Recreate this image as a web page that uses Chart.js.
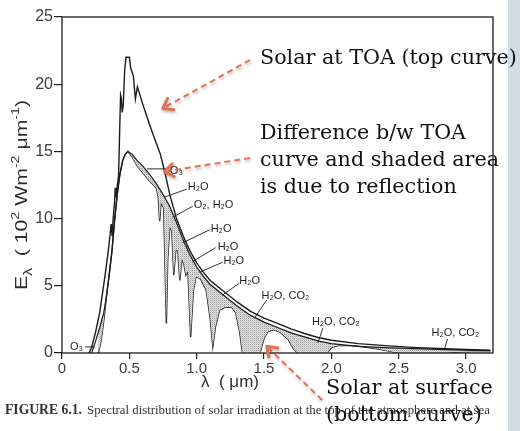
<!DOCTYPE html>
<html>
<head>
<meta charset="utf-8">
<script src="https://cdn.jsdelivr.net/npm/chart.js@4.4.1/dist/chart.umd.min.js"></script>
<style>
  html, body { margin: 0; padding: 0; background: #fff; overflow: hidden; }
  canvas { display: block; }
</style>
</head>
<body>
<canvas id="c" width="520" height="431"></canvas>
<script>
// Solar irradiance at the top of the atmosphere (10^2 W m^-2 um^-1)
const lambdaToa = [0.20,0.22,0.25,0.28,0.30,0.32,0.34,0.355,0.365,0.372,0.38,0.39,0.395,0.40,0.41,0.42,0.428,0.435,0.44,0.447,0.455,0.465,0.475,0.50,0.51,0.53,0.545,0.56,0.60,0.65,0.70,0.73,0.76,0.80,0.85,0.90,0.95,1.00,1.05,1.10,1.20,1.30,1.40,1.50,1.60,1.70,1.80,1.90,2.00,2.20,2.40,2.60,2.80,3.00,3.18];
const eToa      = [0,0.4,1.6,3.0,4.4,5.8,7.3,8.6,9.6,8.7,10.0,11.2,12.3,11.6,12.4,13.2,16.5,19.2,19.0,17.9,18.5,21.0,22.0,22.0,21.2,20.6,18.9,19.8,18.5,17.0,15.6,14.8,13.6,11.8,10.0,8.7,7.6,6.7,6.0,5.4,4.6,3.8,3.1,2.6,2.2,1.8,1.45,1.15,0.95,0.7,0.55,0.42,0.33,0.26,0.2];

// Sea-level curve without gaseous absorption (upper edge of the shaded band)
const lambdaClear = [0.22,0.25,0.28,0.31,0.33,0.35,0.37,0.39,0.41,0.43,0.45,0.47,0.49,0.52,0.56,0.60,0.65,0.70,0.75,0.80,0.85,0.90,0.95,1.00,1.05,1.10,1.20,1.30,1.40,1.50,1.60,1.70,1.80,1.90,2.00,2.20,2.40,2.60,2.80,3.00,3.18];
const eClear      = [0,0.9,1.9,3.0,4.2,5.8,7.5,9.8,11.8,13.3,14.3,14.8,15.0,14.8,14.3,13.9,13.3,12.6,11.8,10.9,9.7,8.4,7.3,6.4,5.7,5.1,4.3,3.5,2.8,2.3,1.9,1.5,1.2,0.9,0.7,0.5,0.4,0.33,0.27,0.22,0.18];

// Solar irradiance at sea level (lower edge of the shaded band)
const lambdaSfc = [0.27,0.29,0.31,0.33,0.35,0.37,0.39,0.41,0.43,0.45,0.47,0.49,0.52,0.56,0.60,0.64,0.68,0.70,0.715,0.725,0.735,0.755,0.765,0.775,0.785,0.80,0.815,0.83,0.845,0.86,0.875,0.89,0.905,0.92,0.935,0.955,0.975,0.995,1.03,1.07,1.10,1.12,1.14,1.17,1.21,1.26,1.29,1.32,1.34,1.47,1.50,1.53,1.57,1.62,1.68,1.72,1.75,1.97,2.00,2.05,2.15,2.25,2.35,2.45,2.50,2.85,2.95,3.05,3.18];
const eSfc      = [0,0.9,2.4,4.2,5.8,7.5,9.8,11.8,13.3,14.3,14.8,15.0,14.6,13.9,13.4,12.9,12.5,12.3,11.6,9.8,11.2,10.8,6.5,2.2,7.0,9.4,9.1,5.8,7.7,7.6,5.4,7.0,6.6,5.8,6.1,1.2,4.6,5.7,5.5,4.7,2.6,0.5,2.0,3.2,3.4,3.4,3.0,1.5,0,0,1.1,1.6,1.75,1.55,1.0,0.3,0,0,0.4,0.55,0.55,0.45,0.3,0.1,0,0,0.08,0.1,0.1];

// Axis ticks
const xTickValues = [0, 0.5, 1.0, 1.5, 2.0, 2.5, 3.0];
const yTickValues = [0, 5, 10, 15, 20, 25];

// Absorber labels: anchor on the curve (um, 10^2 W m^-2 um^-1)
const chemText = ['O\u2083','H\u2082O','O\u2082, H\u2082O','H\u2082O','H\u2082O','H\u2082O','H\u2082O','H\u2082O, CO\u2082','H\u2082O, CO\u2082','H\u2082O, CO\u2082','O\u2083'];
const chemLam  = [0.63,0.763,0.822,0.896,0.97,1.02,1.19,1.43,1.90,2.84,0.245];
const chemE    = [13.7,11.6,10.1,8.2,6.8,6.0,4.3,2.6,0.75,0.3,0.45];

const pts = (xs, ys) => xs.map((x, i) => ({ x, y: ys[i] }));

// stippled grey fill for the absorbed band
function stipple() {
  const p = document.createElement('canvas');
  p.width = 2; p.height = 2;
  const g = p.getContext('2d');
  g.fillStyle = '#e2e2e2'; g.fillRect(0, 0, 2, 2);
  g.fillStyle = '#9c9c9c'; g.fillRect(0, 0, 1, 1);
  g.fillStyle = '#c8c8c8'; g.fillRect(1, 1, 1, 1);
  return document.getElementById('c').getContext('2d').createPattern(p, 'repeat');
}

const INK = '#1c1c1c';
const SERIF = '"DejaVu Serif", serif';
const SANS = '"Liberation Sans", Arial, sans-serif';
const ARROW = '#e4724e';

function richWidth(ctx, parts, k) {
  let total = 0;
  parts.forEach(p => { ctx.font = (p[1] * k) + 'px ' + SANS; total += ctx.measureText(p[0]).width; });
  return total;
}

function drawRich(ctx, parts, x, y, align, k) {
  // parts: [text, size, dy]
  const total = richWidth(ctx, parts, k);
  let cx = align === 'center' ? x - total / 2 : x;
  parts.forEach(p => {
    ctx.font = (p[1] * k) + 'px ' + SANS;
    ctx.fillText(p[0], cx, y + p[2] * k);
    cx += ctx.measureText(p[0]).width;
  });
}

function fitSize(ctx, text, family, width, weight) {
  ctx.font = (weight || '') + ' 20px ' + family;
  return 20 * width / ctx.measureText(text).width;
}

function arrow(ctx, x0, y0, x1, y1) {
  ctx.save();
  ctx.strokeStyle = ARROW;
  ctx.shadowColor = 'rgba(0,0,0,0.28)';
  ctx.shadowBlur = 3; ctx.shadowOffsetX = 1; ctx.shadowOffsetY = 2;
  ctx.lineWidth = 2;
  ctx.setLineDash([6, 4]);
  const a = Math.atan2(y1 - y0, x1 - x0);
  ctx.beginPath();
  ctx.moveTo(x0, y0);
  ctx.lineTo(x1 - 4 * Math.cos(a), y1 - 4 * Math.sin(a));
  ctx.stroke();
  ctx.setLineDash([]);
  ctx.lineWidth = 3;
  ctx.lineCap = 'round'; ctx.lineJoin = 'round';
  const h = 11, w = 0.62;
  ctx.beginPath();
  ctx.moveTo(x1 - h * Math.cos(a - w), y1 - h * Math.sin(a - w));
  ctx.lineTo(x1, y1);
  ctx.lineTo(x1 - h * Math.cos(a + w), y1 - h * Math.sin(a + w));
  ctx.stroke();
  ctx.restore();
}

const decor = {
  id: 'decor',
  beforeDraw(chart) {
    const ctx = chart.ctx;
    ctx.save();
    ctx.fillStyle = '#ffffff';
    ctx.fillRect(0, 0, chart.width, chart.height);
    ctx.fillStyle = '#d4dce3';
    ctx.fillRect(508, 0, chart.width - 508, chart.height);
    ctx.restore();
  },
  afterDraw(chart) {
    const ctx = chart.ctx;
    const a = chart.chartArea;
    const xs = chart.scales.x, ys = chart.scales.y;
    ctx.save();

    // plot frame
    ctx.strokeStyle = INK; ctx.lineWidth = 1.3;
    ctx.strokeRect(a.left, a.top, a.right - a.left, a.bottom - a.top);

    // y-axis title, set in a slightly extended face
    ctx.fillStyle = '#2e2e2e';
    ctx.textBaseline = 'alphabetic';
    const yTitle = [['E', 15, 0], ['\u03bb', 11, 4], ['  ( 10', 15, 0], ['2', 10, -7], [' Wm', 15, 0], ['-2', 10, -7], [' \u03bcm', 15, 0], ['-1', 10, -7], [')', 15, 0]];
    const k = 1.15;
    const stretch = 190 / richWidth(ctx, yTitle, k);
    ctx.save();
    ctx.translate(27, 195);
    ctx.rotate(-Math.PI / 2);
    ctx.scale(stretch, 1);
    drawRich(ctx, yTitle, 0, 0, 'center', k);
    ctx.restore();

    // x-axis title
    drawRich(ctx, [['\u03bb  ( \u03bcm)', 17, 0]], 230, 387, 'center', 1);

    // absorber labels with leader lines
    const dx = [21, 22, 20, 27, 23, 23, 17, 12, 5, 3, -10];
    const dy = [0, -8, -11, -13, -14, -10, -12, -18, -15, -10, 0];
    const tx = [2, 1, 1, 1, 2, 1, 0, -5, -11, -16, -2];
    const ty = [2, -2, -1, -1, -1, -1, -2, -4, -6, -6, 0];
    ctx.strokeStyle = INK; ctx.lineWidth = 0.9;
    ctx.fillStyle = '#1e1e1e';
    ctx.font = '11px ' + SANS;
    ctx.textBaseline = 'middle';
    chemText.forEach((t, i) => {
      const px = xs.getPixelForValue(chemLam[i]);
      const py = ys.getPixelForValue(chemE[i]);
      const ex = px + dx[i], ey = py + dy[i];
      ctx.beginPath(); ctx.moveTo(px, py); ctx.lineTo(ex, ey); ctx.stroke();
      ctx.textAlign = dx[i] < 0 ? 'right' : 'left';
      ctx.fillText(t, ex + tx[i], ey + ty[i]);
    });

    // figure caption
    ctx.textBaseline = 'alphabetic';
    ctx.textAlign = 'left';
    ctx.fillStyle = '#333333';
    const capFamily = '"Liberation Serif", serif';
    const s1 = fitSize(ctx, 'FIGURE 6.1.', capFamily, 77, 'bold');
    ctx.font = 'bold ' + s1 + 'px ' + capFamily;
    ctx.fillText('FIGURE 6.1.', 5, 414);
    const s2 = fitSize(ctx, 'Spectral distribution of solar irradiation at the ', capFamily, 238);
    ctx.font = s2 + 'px ' + capFamily;
    ctx.fillText('Spectral distribution of solar irradiation at the top of the atmosphere and at sea', 87, 414);

    // explanatory notes
    const size = fitSize(ctx, 'Solar at TOA (top curve)', SERIF, 257);
    ctx.font = size + 'px ' + SERIF;
    ctx.fillStyle = '#111';
    ctx.fillText('Solar at TOA (top curve)', 260, 64);
    ctx.fillText('Difference b/w TOA', 260, 139);
    ctx.fillText('curve and shaded area', 260, 166);
    ctx.fillText('is due to reflection', 260, 193);
    ctx.fillText('Solar at surface', 326, 394);
    ctx.fillText('(bottom curve)', 326, 421);

    arrow(ctx, 250, 60, xs.getPixelForValue(0.748), ys.getPixelForValue(18.2));
    arrow(ctx, 250, 158, xs.getPixelForValue(0.76), ys.getPixelForValue(13.5));
    arrow(ctx, 322, 400, xs.getPixelForValue(1.52), ys.getPixelForValue(0.5));

    ctx.restore();
  }
};

new Chart(document.getElementById('c'), {
  type: 'line',
  data: {
    datasets: [
      { label: 'TOA', data: pts(lambdaToa, eToa), borderColor: INK, borderWidth: 1.4, pointRadius: 0, fill: false },
      { label: 'Sea level, no absorption', data: pts(lambdaClear, eClear), borderColor: INK, borderWidth: 1.2, pointRadius: 0, fill: { target: 2 }, backgroundColor: stipple() },
      { label: 'Sea level', data: pts(lambdaSfc, eSfc), borderColor: INK, borderWidth: 1.4, pointRadius: 0, fill: false }
    ]
  },
  options: {
    responsive: false,
    animation: false,
    devicePixelRatio: 1,
    layout: { padding: { left: 0, right: 27, top: 17, bottom: 0 } },
    plugins: { legend: { display: false }, tooltip: { enabled: false } },
    elements: { line: { tension: 0 } },
    scales: {
      x: {
        type: 'linear', min: 0, max: 3.2,
        afterFit(s) { s.height = 78; },
        afterBuildTicks(s) { s.ticks = xTickValues.map(v => ({ value: v })); },
        border: { display: false },
        grid: { drawOnChartArea: false, drawTicks: true, tickLength: 6, color: INK, lineWidth: 1.2 },
        ticks: {
          autoSkip: false, maxRotation: 0, padding: 1, color: '#3c3c3c',
          font: { family: SANS, size: 15 },
          callback: v => (v === 0 ? '0' : Number(v).toFixed(1))
        }
      },
      y: {
        type: 'linear', min: 0, max: 25,
        afterFit(s) { s.width = 62; },
        afterBuildTicks(s) { s.ticks = yTickValues.map(v => ({ value: v })); },
        border: { display: false },
        grid: { drawOnChartArea: false, drawTicks: true, tickLength: 8, color: INK, lineWidth: 1.2 },
        ticks: {
          padding: 1, color: '#3c3c3c',
          font: { family: SANS, size: 16 },
          callback: v => String(v)
        }
      }
    }
  },
  plugins: [decor]
});
</script>
</body>
</html>
